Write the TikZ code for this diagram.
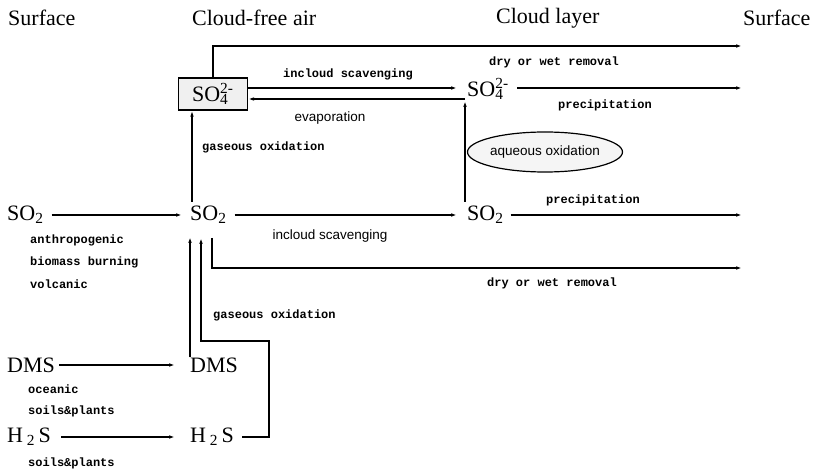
\documentclass[tikz,border=0pt]{standalone}
\usepackage{fontspec}
\setmainfont{Liberation Serif}
\setsansfont{Liberation Sans}
\setmonofont{Liberation Mono}
\usetikzlibrary{arrows.meta,shapes.geometric}
\newcommand{\chemss}[2]{\rlap{\textsuperscript{#1}}\textsubscript{\makebox[0pt][l]{#2}}\hphantom{\textsuperscript{#1}}}
\tikzset{
  header/.style={font=\fontsize{22}{24}\selectfont, inner sep=0pt, anchor=west},
  chem/.style={font=\fontsize{22}{24}\selectfont, inner sep=0pt, anchor=west},
  monolab/.style={font=\ttfamily\bfseries\fontsize{12}{13}\selectfont, inner sep=0pt},
  sanslab/.style={font=\sffamily\fontsize{13.5}{15}\selectfont, inner sep=0pt},
  arr/.style={line width=1.2pt, -{Latex[length=6pt,width=3.6pt]}},
  ln/.style={line width=1.2pt},
  so4boxstyle/.style={draw, line width=1.2pt, fill=gray!12, minimum width=69pt, minimum height=32pt, inner sep=0pt, font=\fontsize{22}{24}\selectfont},
  cloudell/.style={draw, ellipse, line width=1.2pt, fill=gray!8, minimum width=136pt, minimum height=40pt, inner sep=0pt, font=\sffamily\fontsize{13.5}{15}\selectfont}
}
\begin{document}
\begin{tikzpicture}[x=1pt,y=-1pt]
\useasboundingbox (0,0) rectangle (820,470);
% headers
\node[header] (hs1) at (8,18) {Surface};
\node[header] (hcf) at (192,18) {Cloud-free air};
\node[header] (hcl) at (496,18) {Cloud layer};
\node[header] (hs2) at (743,18) {Surface};
% species
\node[so4boxstyle] (so4b) at (213,94) {SO\chemss{2-}{4}};
\node[chem] (so4r) at (467,89) {SO\chemss{2-}{4}};
\node[chem] (so2l) at (7,215) {SO\textsubscript{2}};
\node[chem] (so2c) at (190,215) {SO\textsubscript{2}};
\node[chem] (so2r) at (467,215) {SO\textsubscript{2}};
\node[chem] (dmsl) at (7,365) {DMS};
\node[chem] (dmsc) at (190,365) {DMS};
\node[chem] (h2sl) at (7,437) {H\,\textsubscript{2}\,S};
\node[chem] (h2sc) at (190,437) {H\,\textsubscript{2}\,S};
\node[cloudell] (aq) at (545,152) {aqueous oxidation};
% end coordinates
\coordinate (e1) at (742,46);
\coordinate (e2) at (742,88);
\coordinate (e3) at (742,215);
\coordinate (e4) at (742,268);
\coordinate (c1) at (465,99);
\coordinate (c0) at (465,202);
\coordinate (c2) at (212,238);
\coordinate (c3) at (269,435);
\coordinate (c4) at (201,341);
\coordinate (c5) at (192,202);
% connectors
\draw[arr] (so4b.north) |- (e1);
\draw[arr] ([yshift=6pt]so4b.east) -- ([xshift=-10pt,yshift=6pt]so4b.east -| so4r.west);
\draw[arr] (c1) -- (so4b.east |- c1);
\draw[arr] (c0) -- ([yshift=-2pt]c1);
\draw[arr] ([xshift=8pt]so4r.east |- e2) -- (e2);
\draw[arr] ([xshift=8pt]so2l.east) -- ([xshift=-8pt]so2c.west);
\draw[arr] ([xshift=8pt]so2c.east) -- ([xshift=-10pt]so2r.west);
\draw[arr] ([xshift=7pt]so2r.east) -- (e3);
\draw[arr] (c5) -- (c5 |- so4b.south);
\draw[arr] (dmsc.north west) -- ([yshift=-22pt]so2c.west);
\draw[arr] (c2) |- (e4);
\draw[arr] ([xshift=8pt]h2sc.east) -| (c3) |- (c4) -- (c4 |- c2);
\draw[arr] ([xshift=4pt]dmsl.east) -- ([xshift=-15pt]dmsc.west);
\draw[arr] ([xshift=10pt]h2sl.east) -- ([xshift=-15pt]h2sc.west);
% labels
\node[monolab] (l1) at (554,62) {dry or wet removal};
\node[monolab] (l2) at (348,74) {incloud scavenging};
\node[monolab] (l3) at (605,105) {precipitation};
\node[sanslab] (l4) at (330,118) {evaporation};
\node[monolab, anchor=west] (l5) at (202,147) {gaseous oxidation};
\node[monolab] (l6) at (593,200) {precipitation};
\node[sanslab] (l7) at (330,236) {incloud scavenging};
\node[monolab] (l8) at (552,283) {dry or wet removal};
\node[monolab, anchor=west] (l9) at (30,240) {anthropogenic};
\node[monolab, anchor=west] (l10) at (30,262) {biomass burning};
\node[monolab, anchor=west] (l11) at (30,284) {volcanic};
\node[monolab, anchor=west] (l12) at (213,315) {gaseous oxidation};
\node[monolab, anchor=west] (l13) at (28,389) {oceanic};
\node[monolab, anchor=west] (l14) at (28,411) {soils\&plants};
\node[monolab, anchor=west] (l15) at (28,463) {soils\&plants};
\end{tikzpicture}
\end{document}
